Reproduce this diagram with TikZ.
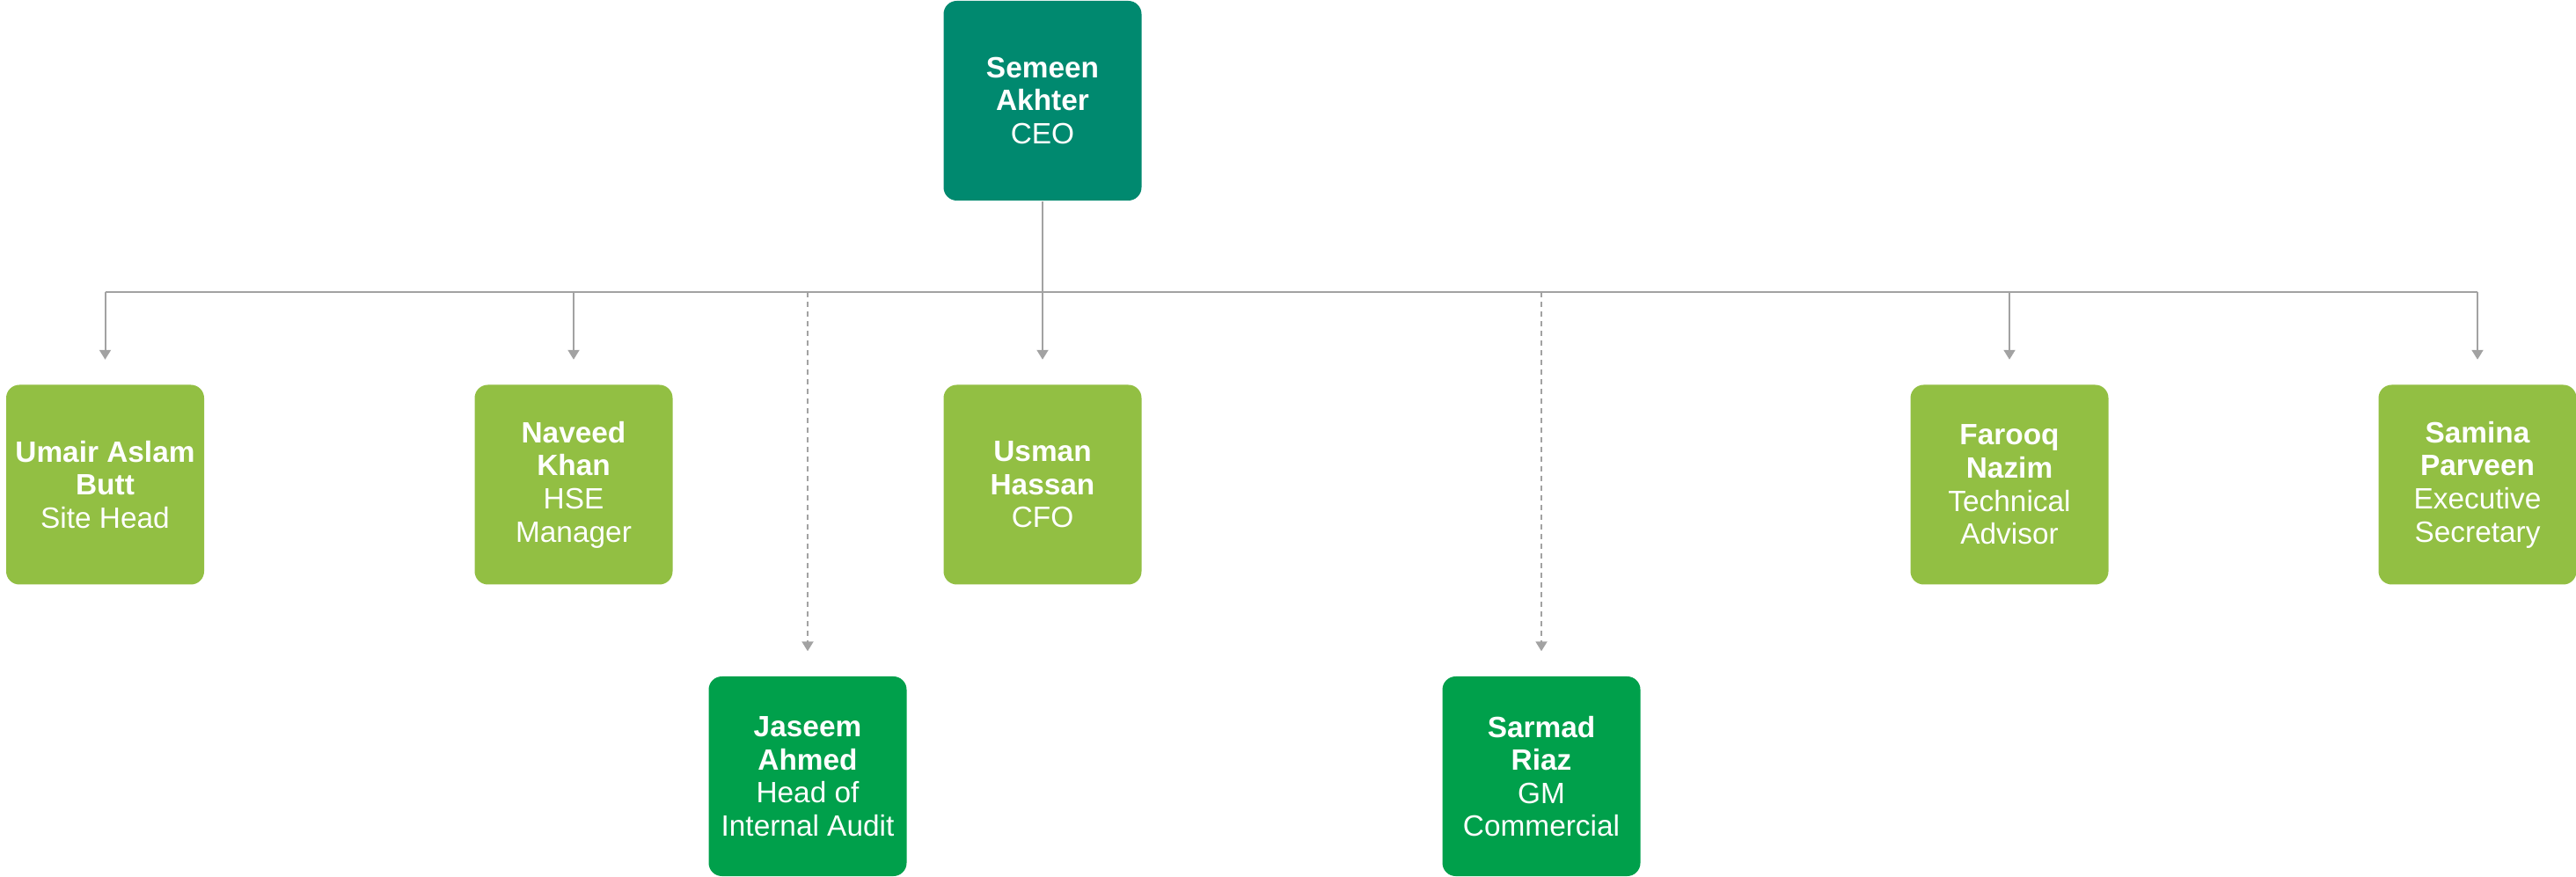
\documentclass[tikz,border=0pt]{standalone}
\usepackage{fontspec}
\setmainfont{Liberation Sans}
\usepackage{xcolor}
\usetikzlibrary{arrows.meta}
\definecolor{ceoteal}{HTML}{00896F}
\definecolor{leafgreen}{HTML}{92BF43}
\definecolor{deepgreen}{HTML}{00A04B}
\definecolor{linegray}{HTML}{A2A2A2}

\tikzset{
  box/.style={rounded corners=0.15cm, minimum width=2.25cm, minimum height=2.27cm,
    inner sep=0pt, text=white, align=center, font=\fontsize{9.5}{10.7}\selectfont},
  link/.style={draw=linegray, line width=0.02cm},
  tip/.style={link, -{Triangle[width=0.13cm,length=0.11cm]}, shorten >=0.28cm},
}

\begin{document}
\begin{tikzpicture}
  \useasboundingbox (0,0) rectangle (29.28,-9.97);
  \node[box, fill=ceoteal] (ceo) at (11.85,-1.145) {\textbf{Semeen}\\\textbf{Akhter}\\CEO};
  % direct reports
  \node[box, fill=leafgreen] (umair) at (1.195,-5.51) {\textbf{Umair Aslam}\\\textbf{Butt}\\Site Head};
  \node[box, fill=leafgreen] (naveed) at (6.52,-5.51) {\textbf{Naveed}\\\textbf{Khan}\\HSE\\Manager};
  \node[box, fill=leafgreen] (usman) at (11.85,-5.51) {\textbf{Usman}\\\textbf{Hassan}\\CFO};
  \node[box, fill=leafgreen] (farooq) at (22.84,-5.51) {\textbf{Farooq}\\\textbf{Nazim}\\Technical\\Advisor};
  \node[box, fill=leafgreen] (samina) at (28.16,-5.51) {\textbf{Samina}\\\textbf{Parveen}\\Executive\\Secretary};
  % dotted line reports
  \node[box, fill=deepgreen] (jaseem) at (9.18,-8.825) {\textbf{Jaseem}\\\textbf{Ahmed}\\Head of\\Internal Audit};
  \node[box, fill=deepgreen] (sarmad) at (17.52,-8.825) {\textbf{Sarmad}\\\textbf{Riaz}\\GM\\Commercial};

  \coordinate (bus) at (0,-3.32);
  \draw[link] (ceo.south) -- (ceo.south |- bus);
  \draw[link] (umair.north |- bus) -- (samina.north |- bus);
  \foreach \n in {umair,naveed,usman,farooq,samina}
    \draw[tip] (\n.north |- bus) -- (\n.north);
  \foreach \n in {jaseem,sarmad}
    \draw[tip, dash pattern=on 0.06cm off 0.05cm] (\n.north |- bus) -- (\n.north);
\end{tikzpicture}
\end{document}
